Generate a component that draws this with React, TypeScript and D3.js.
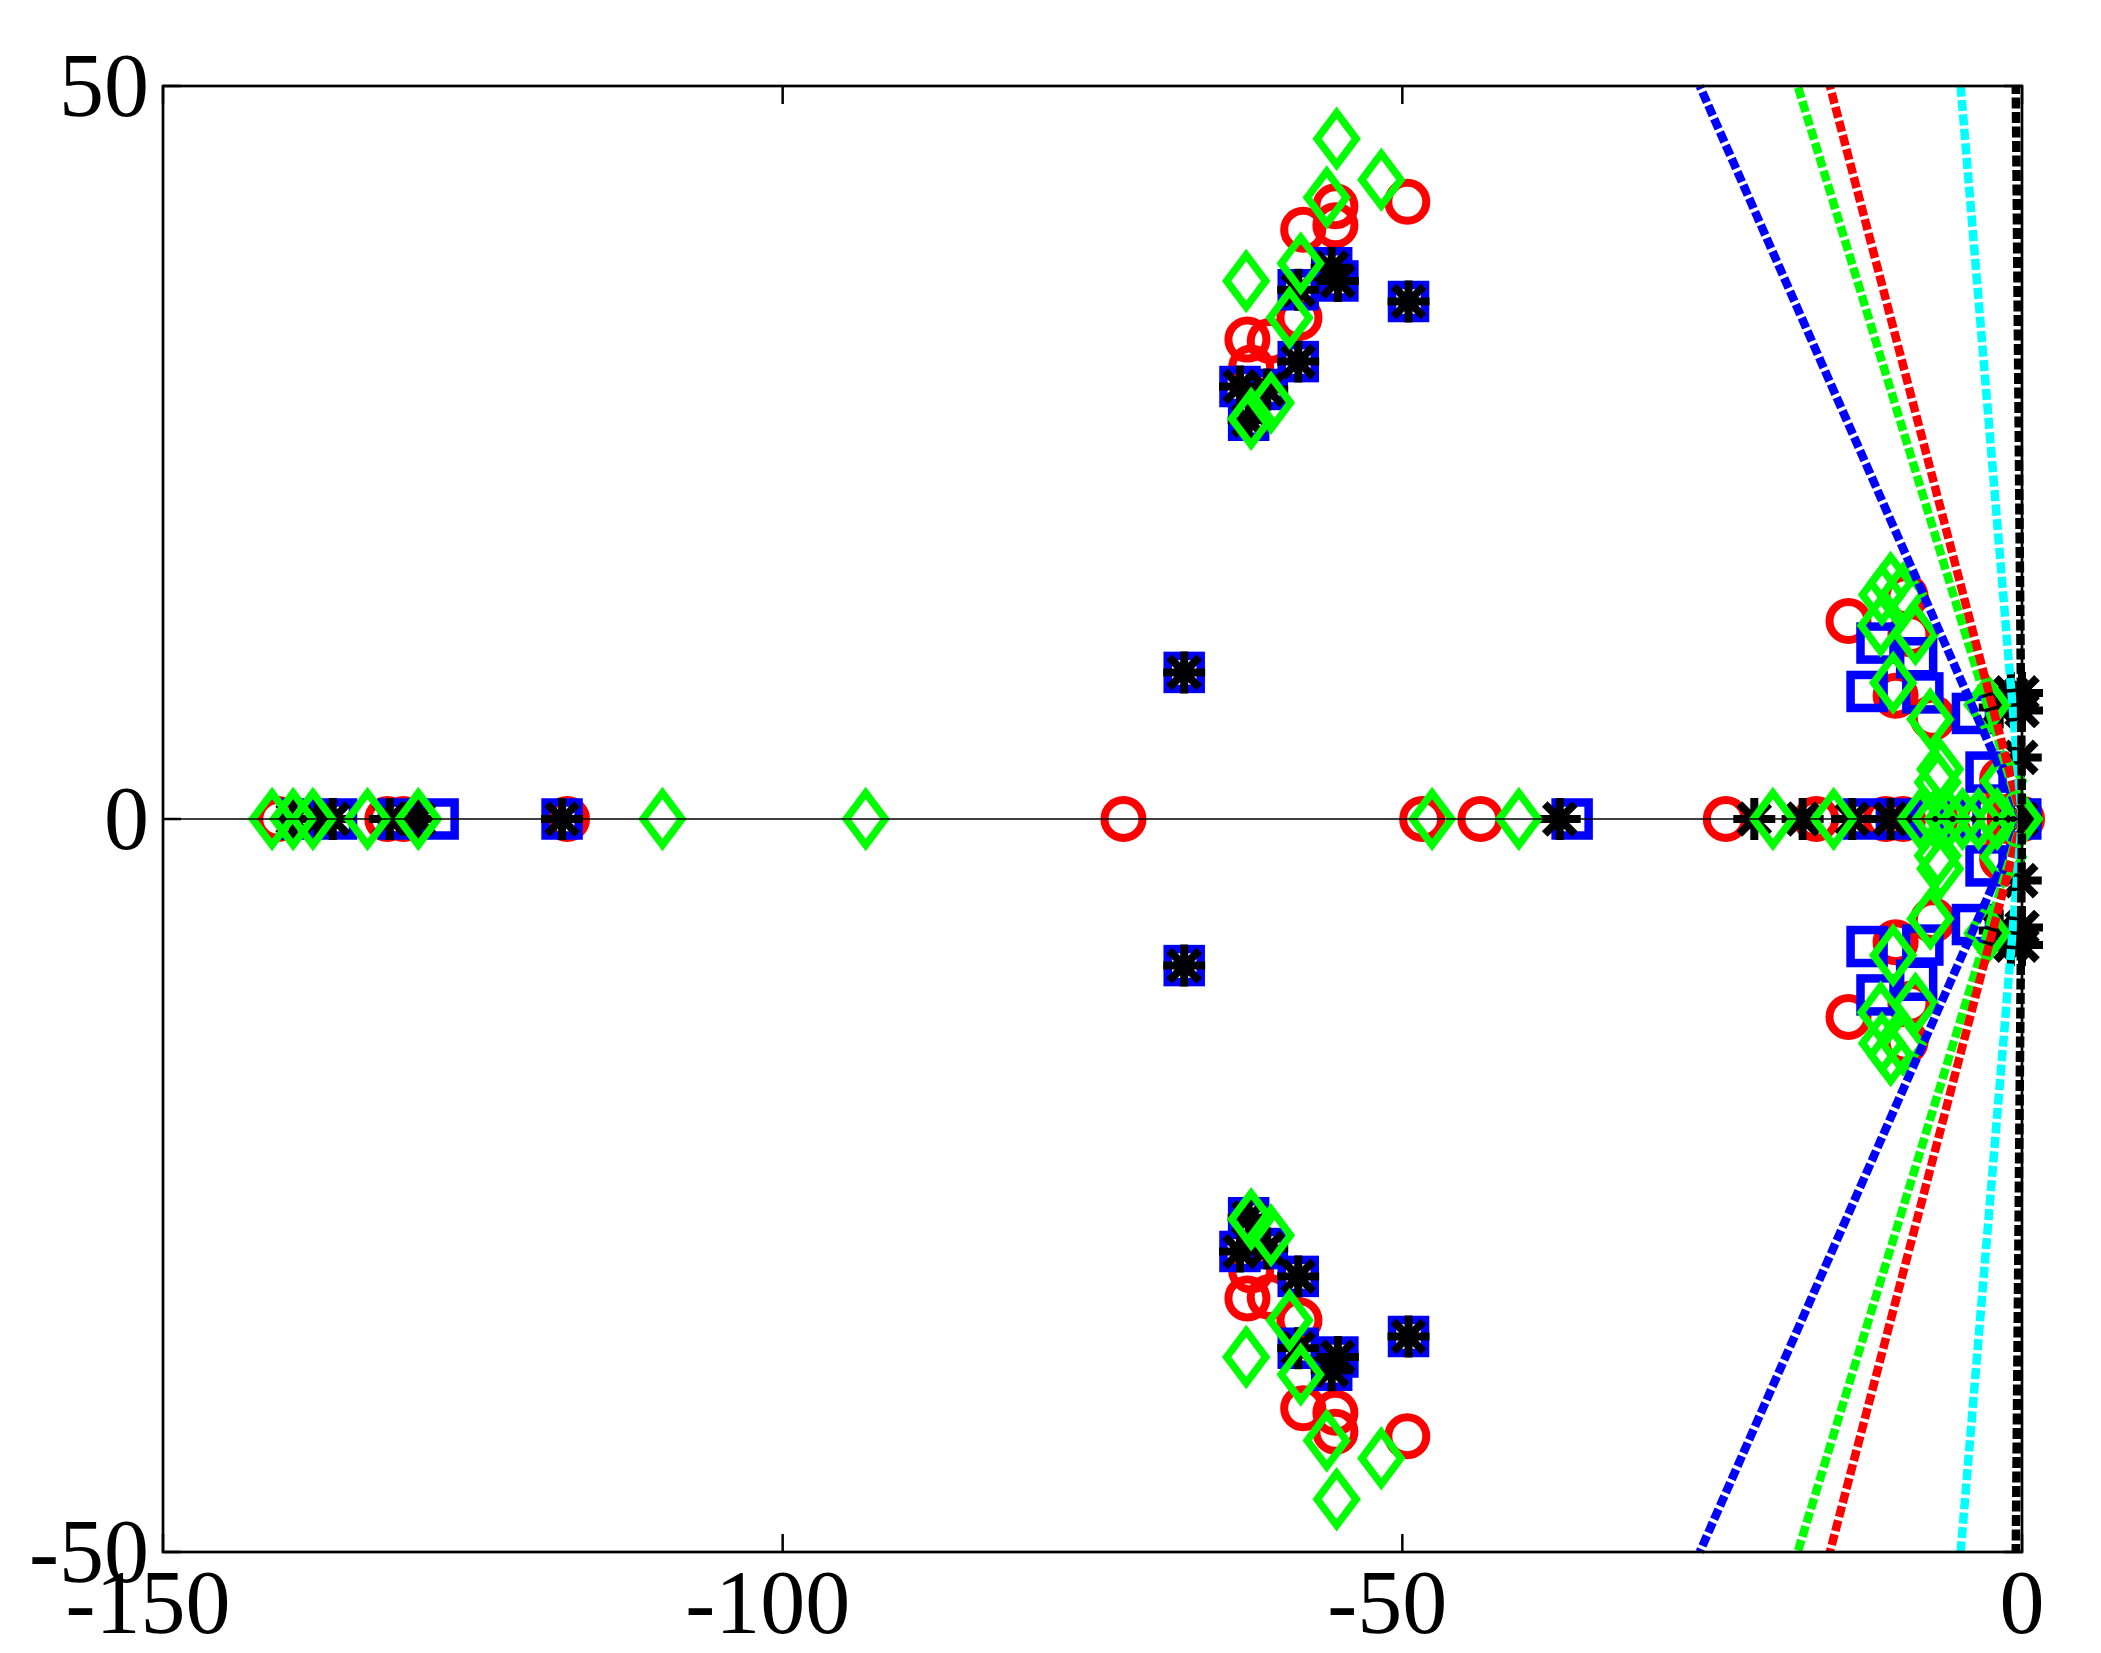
import React from "react";
import * as d3 from "d3";

const W = 2101;
const H = 1653;

// axis limits and ticks
const xDomain = [-150, 0];
const yDomain = [-50, 50];
const xTicks = [-150, -100, -50, 0];
const yTicks = [-50, 0, 50];

// Poles: complex ones listed by upper half [re, im] (conjugate plotted too), real ones by re
const redComplex = [
  [-49.6, 42.1], [-55.4, 41.8], [-55.4, 40.5], [-58.0, 40.2], [-58.3, 34.2],
  [-62.5, 32.7], [-60.7, 32.6], [-62.2, 30.8],
  [-14.0, 13.5], [-9.4, 15.2], [-9.0, 12.6], [-10.2, 8.4], [-7.2, 6.9], [-1.6, 2.7],
];
const redReal = [-140.7, -131.9, -130.6, -117.4, -72.5, -48.4, -43.7, -23.9, -16.6, -11.0, -9.6, -7.0, -3.1, -1.0, 0];

const blueComplex = [
  [-55.7, 37.6], [-55.2, 36.7], [-58.4, 36.1], [-49.5, 35.3], [-58.4, 31.2],
  [-63.1, 29.5], [-60.9, 29.3], [-62.4, 27.2], [-67.6, 10.0],
  [-11.7, 12.0], [-12.5, 8.7], [-8.5, 11.0], [-8.0, 8.6], [-4.0, 7.2], [-2.9, 3.2],
];
const blueReal = [-139.0, -136.0, -131.0, -127.8, -117.8, -36.3, -12.8, -10.0, -7.5, -5.0, -0.1];

const blackComplex = [
  [-55.7, 37.6], [-55.2, 36.7], [-58.4, 36.1], [-49.5, 35.3], [-58.4, 31.2],
  [-63.1, 29.5], [-60.9, 29.3], [-62.4, 27.2], [-67.6, 10.0],
  [-1.8, 7.6], [-0.9, 8.6], [0, 8.6], [0, 7.4], [-0.1, 4.2],
];
const blackReal = [-139.5, -137.5, -136.3, -131.7, -129.4, -117.8, -37.3, -21.6, -17.7, -13.7, -10.6, -0.1];

const greenComplex = [
  [-55.3, 46.4], [-51.7, 43.6], [-56.1, 42.4], [-58.2, 37.9], [-62.6, 36.7],
  [-59.1, 34.2], [-60.6, 28.4], [-62.2, 27.3],
  [-11.3, 15.3], [-10.6, 16.1], [-9.6, 15.4], [-11.4, 13.2], [-8.6, 12.6], [-10.4, 9.3],
  [-7.4, 6.8], [-2.8, 7.8], [-6.6, 3.4], [-6.8, 2.5], [-1.5, 2.6],
];
const greenReal = [-141.2, -139.5, -137.9, -133.5, -129.4, -109.7, -93.3, -47.6, -40.6, -20.1, -15.2, -8.2, -7.0, -6.0, -4.8, -3.5, -2.0, -0.2];

// small black points on the real axis
const blackDotsReal = [-7.0, -5.6, -3.9, -2.1, -0.7];

// constant-damping lines: real part where they meet |imag| = 50
const lineNames = ["blue", "green", "red", "cyan", "black"];
const lineReAtEdge = [-26.0, -18.1, -15.5, -4.95, -0.5];
const lineImEdge = 50;

const colors: Record<string, string> = {
  red: "#ff0000",
  blue: "#0000ff",
  green: "#00ff00",
  cyan: "#00ffff",
  black: "#000000",
};

function expand(complex: number[][], real: number[]) {
  const pts: number[][] = [];
  complex.forEach(([re, im]) => pts.push([re, im]));
  complex.forEach(([re, im]) => pts.push([re, -im]));
  real.forEach((re) => pts.push([re, 0]));
  return pts;
}

export default function App() {
  const left = 163, right = 2022, top = 86, bottom = 1552;
  const x = d3.scaleLinear().domain(xDomain).range([left, right]);
  const y = d3.scaleLinear().domain(yDomain).range([bottom, top]);

  const red = expand(redComplex, redReal);
  const blue = expand(blueComplex, blueReal);
  const black = expand(blackComplex, blackReal);
  const green = expand(greenComplex, greenReal);

  const fs = 90;
  const font = "'Liberation Serif', 'Times New Roman', serif";

  const lineGen = d3.line<number[]>().x((d) => x(d[0])).y((d) => y(d[1]));

  const astPath = (cx: number, cy: number) => {
    const r = 21, d = 15;
    return `M${cx - r},${cy}H${cx + r}M${cx},${cy - r}V${cy + r}M${cx - d},${cy - d}L${cx + d},${cy + d}M${cx - d},${cy + d}L${cx + d},${cy - d}`;
  };
  const diamondPath = (cx: number, cy: number) => {
    const hw = 19.5, hh = 26;
    return `M${cx},${cy - hh}L${cx + hw},${cy}L${cx},${cy + hh}L${cx - hw},${cy}Z`;
  };

  return (
    <svg width={W} height={H} style={{ position: "absolute", left: 0, top: 0, background: "#fff" }}>
      <rect x={0} y={0} width={W} height={H} fill="#fff" />
      {/* markers */}
      <g fill="none" stroke={colors.red} strokeWidth={8}>
        {red.map((p, i) => (
          <circle key={i} cx={x(p[0])} cy={y(p[1])} r={19} />
        ))}
      </g>
      <g fill="none" stroke={colors.blue} strokeWidth={8.5}>
        {blue.map((p, i) => (
          <rect key={i} x={x(p[0]) - 16.5} y={y(p[1]) - 16.5} width={33} height={33} />
        ))}
      </g>
      <g fill="none" stroke={colors.black} strokeWidth={8}>
        {black.map((p, i) => (
          <path key={i} d={astPath(x(p[0]), y(p[1]))} />
        ))}
      </g>
      <g fill="none" stroke={colors.green} strokeWidth={7.5} strokeLinejoin="miter">
        {green.map((p, i) => (
          <path key={i} d={diamondPath(x(p[0]), y(p[1]))} />
        ))}
      </g>
      {/* damping lines */}
      <g fill="none" strokeWidth={8.5} strokeDasharray="11 3.5">
        {lineNames.map((n, i) => (
          <g key={n}>
            <path d={lineGen([[0, 0], [lineReAtEdge[i], lineImEdge]]) || ""} stroke={colors[n]} />
            <path d={lineGen([[0, 0], [lineReAtEdge[i], -lineImEdge]]) || ""} stroke={colors[n]} />
          </g>
        ))}
      </g>
      {/* real axis line */}
      <line x1={x(xDomain[0])} x2={x(xDomain[1])} y1={y(0)} y2={y(0)} stroke="#000" strokeWidth={1.4} />
      <g fill="#000">
        {blackDotsReal.map((re, i) => (
          <circle key={i} cx={x(re)} cy={y(0)} r={3} />
        ))}
      </g>
      {/* ticks */}
      <g stroke="#000" strokeWidth={2.5}>
        {xTicks.map((t) => (
          <g key={t}>
            <line x1={x(t)} x2={x(t)} y1={bottom} y2={bottom - 18} />
            <line x1={x(t)} x2={x(t)} y1={top} y2={top + 18} />
          </g>
        ))}
        {yTicks.map((t) => (
          <g key={t}>
            <line x1={left} x2={left + 18} y1={y(t)} y2={y(t)} />
            <line x1={right} x2={right - 18} y1={y(t)} y2={y(t)} />
          </g>
        ))}
      </g>
      {/* frame */}
      <rect x={left} y={top} width={right - left} height={bottom - top} fill="none" stroke="#000" strokeWidth={2.7} />
      {/* tick labels */}
      <g fontFamily={font} fontSize={fs} fill="#000">
        {xTicks.map((t) => (
          <text key={t} x={x(t) - (t < 0 ? fs * 0.1667 : 0)} y={1633} textAnchor="middle">
            {String(t)}
          </text>
        ))}
        {yTicks.map((t) => (
          <text key={t} x={149} y={y(t) + 30} textAnchor="end">
            {String(t)}
          </text>
        ))}
      </g>
    </svg>
  );
}
